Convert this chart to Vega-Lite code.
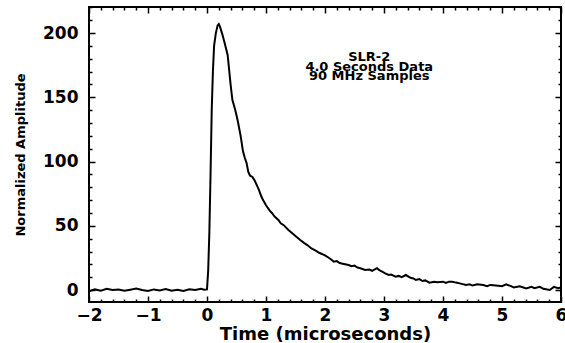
{
  "$schema": "https://vega.github.io/schema/vega-lite/v6.json",
  "width": 472,
  "height": 295,
  "autosize": "none",
  "padding": {"left": 89, "top": 7, "right": 4, "bottom": 41},
  "background": "white",
  "config": {
    "view": {"stroke": "black", "strokeWidth": 2},
    "axis": {
      "domain": false,
      "grid": false,
      "ticks": true,
      "zindex": 2,
      "labelFont": "DejaVu Sans",
      "labelFontWeight": "bold",
      "labelFontSize": 17,
      "labelColor": "black",
      "tickColor": "black",
      "tickWidth": 1.5,
      "tickOpacity": 1,
      "titleFont": "DejaVu Sans",
      "titleFontWeight": "bold",
      "titleColor": "black"
    }
  },
  "data": {"values": [
    {"t": -2.0, "a": -1}, {"t": -1.9, "a": 0.5}, {"t": -1.8, "a": -0.5}, {"t": -1.7, "a": 1}, {"t": -1.6, "a": 0},
    {"t": -1.5, "a": 0.5}, {"t": -1.4, "a": -0.5}, {"t": -1.3, "a": 0.3}, {"t": -1.2, "a": 1.2}, {"t": -1.1, "a": 0},
    {"t": -1.0, "a": -0.8}, {"t": -0.9, "a": 0.5}, {"t": -0.8, "a": -0.3}, {"t": -0.7, "a": 0.8}, {"t": -0.6, "a": -0.6},
    {"t": -0.5, "a": 0.2}, {"t": -0.4, "a": -0.8}, {"t": -0.3, "a": 0.6}, {"t": -0.2, "a": 0}, {"t": -0.1, "a": 1},
    {"t": -0.05, "a": 0.3}, {"t": 0.0, "a": 0.5}, {"t": 0.02, "a": 15}, {"t": 0.04, "a": 45}, {"t": 0.06, "a": 90},
    {"t": 0.08, "a": 140}, {"t": 0.1, "a": 170}, {"t": 0.12, "a": 190}, {"t": 0.15, "a": 200}, {"t": 0.18, "a": 206},
    {"t": 0.2, "a": 207}, {"t": 0.22, "a": 205}, {"t": 0.26, "a": 199}, {"t": 0.3, "a": 192}, {"t": 0.35, "a": 183},
    {"t": 0.4, "a": 160}, {"t": 0.43, "a": 148}, {"t": 0.48, "a": 140}, {"t": 0.52, "a": 132}, {"t": 0.57, "a": 120},
    {"t": 0.61, "a": 108}, {"t": 0.64, "a": 103}, {"t": 0.67, "a": 99}, {"t": 0.7, "a": 92}, {"t": 0.73, "a": 89},
    {"t": 0.77, "a": 88}, {"t": 0.81, "a": 85}, {"t": 0.84, "a": 82}, {"t": 0.88, "a": 78}, {"t": 0.92, "a": 73},
    {"t": 0.95, "a": 70}, {"t": 1.0, "a": 66}, {"t": 1.06, "a": 62}, {"t": 1.1, "a": 60}, {"t": 1.15, "a": 57},
    {"t": 1.21, "a": 54.5}, {"t": 1.25, "a": 52}, {"t": 1.3, "a": 50.5}, {"t": 1.38, "a": 46.7}, {"t": 1.45, "a": 44},
    {"t": 1.5, "a": 42}, {"t": 1.58, "a": 39}, {"t": 1.65, "a": 36.5}, {"t": 1.7, "a": 35}, {"t": 1.77, "a": 32.4},
    {"t": 1.85, "a": 30.5}, {"t": 1.9, "a": 29}, {"t": 2.0, "a": 27}, {"t": 2.05, "a": 25.5}, {"t": 2.1, "a": 24},
    {"t": 2.15, "a": 22}, {"t": 2.2, "a": 22.5}, {"t": 2.25, "a": 21}, {"t": 2.3, "a": 20.5}, {"t": 2.4, "a": 19.5},
    {"t": 2.45, "a": 18.5}, {"t": 2.5, "a": 19}, {"t": 2.55, "a": 17.5}, {"t": 2.6, "a": 17}, {"t": 2.68, "a": 15.6},
    {"t": 2.75, "a": 16}, {"t": 2.8, "a": 15}, {"t": 2.88, "a": 17}, {"t": 2.92, "a": 15.5}, {"t": 2.97, "a": 14.3},
    {"t": 3.02, "a": 13}, {"t": 3.08, "a": 11.7}, {"t": 3.12, "a": 12}, {"t": 3.2, "a": 10.4}, {"t": 3.25, "a": 11},
    {"t": 3.3, "a": 10}, {"t": 3.37, "a": 11.7}, {"t": 3.45, "a": 9.5}, {"t": 3.5, "a": 9}, {"t": 3.54, "a": 7.8},
    {"t": 3.6, "a": 8.5}, {"t": 3.65, "a": 7}, {"t": 3.7, "a": 7.5}, {"t": 3.77, "a": 5.7}, {"t": 3.85, "a": 6.5},
    {"t": 3.9, "a": 6}, {"t": 4.0, "a": 6.5}, {"t": 4.05, "a": 5.5}, {"t": 4.1, "a": 6.5}, {"t": 4.16, "a": 6.5},
    {"t": 4.22, "a": 5.8}, {"t": 4.3, "a": 5}, {"t": 4.39, "a": 3.9}, {"t": 4.45, "a": 4.5}, {"t": 4.5, "a": 3.5},
    {"t": 4.58, "a": 4.5}, {"t": 4.68, "a": 3.9}, {"t": 4.75, "a": 3}, {"t": 4.8, "a": 4}, {"t": 4.9, "a": 3.5},
    {"t": 5.0, "a": 3}, {"t": 5.07, "a": 4.5}, {"t": 5.15, "a": 3}, {"t": 5.2, "a": 2}, {"t": 5.3, "a": 3},
    {"t": 5.41, "a": 1.3}, {"t": 5.5, "a": 2.5}, {"t": 5.55, "a": 1.5}, {"t": 5.64, "a": 2.5}, {"t": 5.7, "a": 1},
    {"t": 5.81, "a": 0}, {"t": 5.88, "a": 2.5}, {"t": 5.95, "a": 1.5}, {"t": 6.0, "a": 2}
  ]},
  "resolve": {"axis": {"x": "independent", "y": "independent"}},
  "layer": [
    {
      "mark": {"type": "line", "color": "black", "strokeWidth": 2, "clip": true},
      "encoding": {
        "x": {
          "field": "t", "type": "quantitative",
          "scale": {"domain": [-2, 6], "nice": false, "zero": false},
          "axis": {
            "orient": "bottom",
            "values": [-2, -1, 0, 1, 2, 3, 4, 5, 6],
            "format": "d",
            "offset": -6,
            "tickSize": 6,
            "labelPadding": 5,
            "labelFlush": false,
            "labelOverlap": false,
            "title": "Time (microseconds)",
            "titleFontSize": 18,
            "titlePadding": 2
          }
        },
        "y": {
          "field": "a", "type": "quantitative",
          "scale": {"domain": [-9.3, 220.3], "nice": false, "zero": false},
          "axis": {
            "orient": "left",
            "values": [0, 50, 100, 150, 200],
            "offset": -6,
            "tickSize": 6,
            "labelPadding": 11,
            "labelOverlap": false,
            "title": "Normalized Amplitude",
            "titleFontSize": 13,
            "titlePadding": 15
          }
        }
      }
    },
    {
      "mark": {"type": "line", "opacity": 0},
      "encoding": {
        "x": {
          "field": "t", "type": "quantitative",
          "axis": {
            "orient": "top",
            "values": [-2, -1, 0, 1, 2, 3, 4, 5, 6],
            "offset": -6,
            "tickSize": 6,
            "labels": false,
            "title": null
          }
        },
        "y": {
          "field": "a", "type": "quantitative",
          "axis": {
            "orient": "right",
            "values": [0, 50, 100, 150, 200],
            "offset": -6,
            "tickSize": 6,
            "labels": false,
            "title": null
          }
        }
      }
    },
    {
      "mark": {"type": "line", "opacity": 0},
      "encoding": {
        "x": {
          "field": "t", "type": "quantitative",
          "axis": {
            "orient": "bottom",
            "values": [-1.8, -1.6, -1.4, -1.2, -0.8, -0.6, -0.4, -0.2, 0.2, 0.4, 0.6, 0.8, 1.2, 1.4, 1.6, 1.8, 2.2, 2.4, 2.6, 2.8, 3.2, 3.4, 3.6, 3.8, 4.2, 4.4, 4.6, 4.8, 5.2, 5.4, 5.6, 5.8],
            "offset": -3,
            "tickSize": 3,
            "labels": false,
            "title": null
          }
        },
        "y": {
          "field": "a", "type": "quantitative",
          "axis": {
            "orient": "left",
            "values": [10, 20, 30, 40, 60, 70, 80, 90, 110, 120, 130, 140, 160, 170, 180, 190, 210, 220],
            "offset": -3,
            "tickSize": 3,
            "labels": false,
            "title": null
          }
        }
      }
    },
    {
      "mark": {"type": "line", "opacity": 0},
      "encoding": {
        "x": {
          "field": "t", "type": "quantitative",
          "axis": {
            "orient": "top",
            "values": [-1.8, -1.6, -1.4, -1.2, -0.8, -0.6, -0.4, -0.2, 0.2, 0.4, 0.6, 0.8, 1.2, 1.4, 1.6, 1.8, 2.2, 2.4, 2.6, 2.8, 3.2, 3.4, 3.6, 3.8, 4.2, 4.4, 4.6, 4.8, 5.2, 5.4, 5.6, 5.8],
            "offset": -3,
            "tickSize": 3,
            "labels": false,
            "title": null
          }
        },
        "y": {
          "field": "a", "type": "quantitative",
          "axis": {
            "orient": "right",
            "values": [10, 20, 30, 40, 60, 70, 80, 90, 110, 120, 130, 140, 160, 170, 180, 190, 210, 220],
            "offset": -3,
            "tickSize": 3,
            "labels": false,
            "title": null
          }
        }
      }
    },
    {
      "data": {"values": [{"label": "SLR-2"}]},
      "mark": {"type": "text", "font": "DejaVu Sans", "fontWeight": "bold", "fontSize": 13, "lineHeight": 9.5, "align": "center", "baseline": "top", "color": "black"},
      "encoding": {
        "x": {"datum": 2.75, "type": "quantitative", "axis": null},
        "y": {"datum": 186, "type": "quantitative", "axis": null},
        "text": {"value": ["SLR-2", "4.0 Seconds Data", "90 MHz Samples"]}
      }
    }
  ]
}
